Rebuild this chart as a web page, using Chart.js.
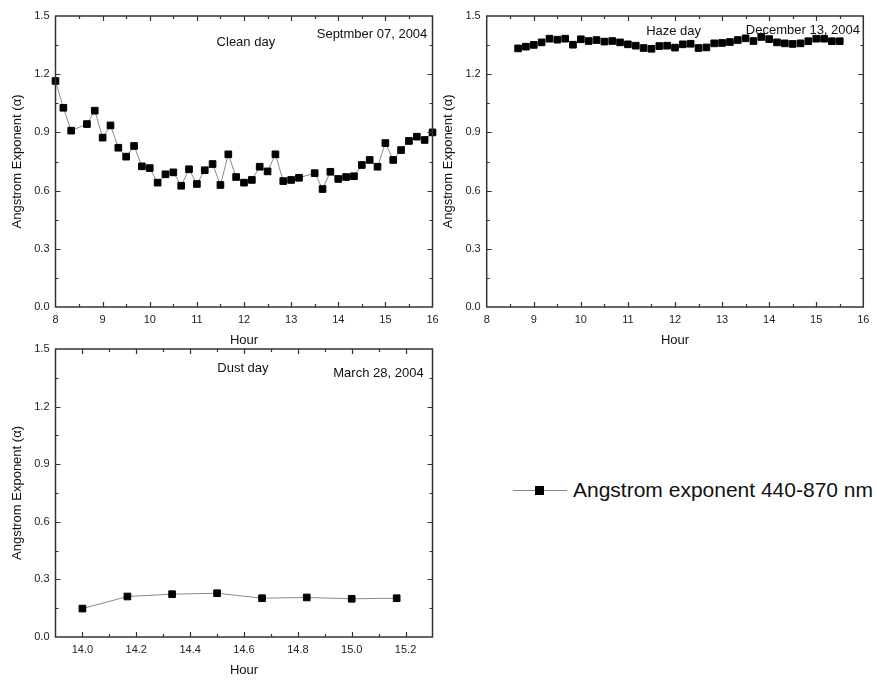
<!DOCTYPE html>
<html><head><meta charset="utf-8">
<script src="https://cdn.jsdelivr.net/npm/chart.js@4.4.1/dist/chart.umd.min.js"></script>
<style>
body{margin:0;width:877px;height:680px;overflow:hidden;background:#fff;font-family:"Liberation Sans",Arial,sans-serif;}
.box{position:absolute;}
#legend{position:absolute;left:513px;top:477px;height:26px;display:flex;align-items:center;}
#legend .ln{position:relative;width:54px;height:1px;background:#888;margin-right:6px;}
#legend .sq{position:absolute;left:22px;top:-4px;width:9px;height:9px;background:#000;}
#legend .tx{font-size:21px;color:#111;white-space:nowrap;}
</style></head><body>
<div class="box" style="left:0;top:0;width:446px;height:350px"><canvas id="c1"></canvas></div>
<div class="box" style="left:431px;top:0;width:446px;height:350px"><canvas id="c2"></canvas></div>
<div class="box" style="left:0;top:333px;width:446px;height:347px"><canvas id="c3"></canvas></div>
<div id="legend"><div class="ln"><div class="sq"></div></div><div class="tx">Angstrom exponent 440-870 nm</div></div>
<script>
// ---- data ----
const cleanHours = [8.0, 8.167, 8.333, 8.667, 8.833, 9.0, 9.167, 9.333, 9.5, 9.667, 9.833, 10.0, 10.167, 10.333, 10.5, 10.667, 10.833, 11.0, 11.167, 11.333, 11.5, 11.667, 11.833, 12.0, 12.167, 12.333, 12.5, 12.667, 12.833, 13.0, 13.167, 13.5, 13.667, 13.833, 14.0, 14.167, 14.333, 14.5, 14.667, 14.833, 15.0, 15.167, 15.333, 15.5, 15.667, 15.833, 16.0];
const cleanAlpha = [1.165, 1.027, 0.909, 0.943, 1.012, 0.873, 0.936, 0.821, 0.775, 0.830, 0.725, 0.716, 0.641, 0.684, 0.694, 0.625, 0.710, 0.634, 0.705, 0.737, 0.629, 0.787, 0.670, 0.641, 0.655, 0.723, 0.699, 0.787, 0.649, 0.655, 0.666, 0.690, 0.608, 0.697, 0.660, 0.670, 0.674, 0.732, 0.758, 0.723, 0.845, 0.758, 0.809, 0.856, 0.878, 0.861, 0.900];

const hazeHours = [8.667, 8.833, 9.0, 9.167, 9.333, 9.5, 9.667, 9.833, 10.0, 10.167, 10.333, 10.5, 10.667, 10.833, 11.0, 11.167, 11.333, 11.5, 11.667, 11.833, 12.0, 12.167, 12.333, 12.5, 12.667, 12.833, 13.0, 13.167, 13.333, 13.5, 13.667, 13.833, 14.0, 14.167, 14.333, 14.5, 14.667, 14.833, 15.0, 15.167, 15.333, 15.5];
const hazeAlpha = [1.333, 1.342, 1.351, 1.364, 1.383, 1.378, 1.383, 1.352, 1.380, 1.371, 1.376, 1.368, 1.371, 1.364, 1.354, 1.347, 1.335, 1.331, 1.345, 1.347, 1.337, 1.354, 1.357, 1.335, 1.338, 1.359, 1.361, 1.366, 1.376, 1.385, 1.371, 1.392, 1.381, 1.364, 1.359, 1.356, 1.359, 1.370, 1.383, 1.383, 1.370, 1.370];

const dustHours = [14.0, 14.167, 14.333, 14.5, 14.667, 14.833, 15.0, 15.167];
const dustAlpha = [0.148, 0.211, 0.223, 0.228, 0.202, 0.206, 0.199, 0.202];

const hourTicks = [8, 9, 10, 11, 12, 13, 14, 15, 16];
const dustHourTicks = [14.0, 14.2, 14.4, 14.6, 14.8, 15.0, 15.2];
const alphaTicks = [0.0, 0.3, 0.6, 0.9, 1.2, 1.5];

const seriesName = 'Angstrom exponent 440-870 nm';
const yTitle = 'Angstrom Exponent (\u03b1)';
const xTitle = 'Hour';

// ---- styling ----
Chart.defaults.font.family = '"Liberation Sans", Arial, sans-serif';
Chart.defaults.color = '#222';

const framePlugin = {
  id: 'frame',
  afterDraw(chart, args, opts) {
    const {ctx, chartArea: a, scales} = chart;
    ctx.save();
    ctx.strokeStyle = '#333';
    ctx.lineWidth = 1.5;
    ctx.strokeRect(a.left, a.top, a.right - a.left, a.bottom - a.top);
    ctx.lineWidth = 1.2;
    const drawTicks = (scale, horizontal) => {
      const majors = scale.ticks.map(t => t.value);
      const minors = [];
      for (let i = 0; i < majors.length - 1; i++) minors.push((majors[i] + majors[i + 1]) / 2);
      const list = majors.map(v => [v, 5]).concat(minors.map(v => [v, 3]));
      list.forEach(([v, len]) => {
        if (v <= scale.min + 1e-9 || v >= scale.max - 1e-9) return;
        const p = Math.round(scale.getPixelForValue(v)) + 0.5;
        ctx.beginPath();
        if (horizontal) {
          ctx.moveTo(p, a.bottom); ctx.lineTo(p, a.bottom - len);
          ctx.moveTo(p, a.top); ctx.lineTo(p, a.top + len);
        } else {
          ctx.moveTo(a.left, p); ctx.lineTo(a.left + len, p);
          ctx.moveTo(a.right, p); ctx.lineTo(a.right - len, p);
        }
        ctx.stroke();
      });
    };
    drawTicks(scales.x, true);
    drawTicks(scales.y, false);
    // annotations positioned in data coordinates
    ctx.fillStyle = '#111';
    ctx.font = '13px "Liberation Sans", Arial, sans-serif';
    ctx.textBaseline = 'middle';
    (opts.notes || []).forEach(n => {
      ctx.textAlign = n.align;
      ctx.fillText(n.text, scales.x.getPixelForValue(n.x), scales.y.getPixelForValue(n.y));
    });
    ctx.restore();
  }
};

function makeChart(id, hours, alpha, xMin, xMax, xTicks, xFmt, showLine, notes, rightPad) {
  return new Chart(document.getElementById(id), {
    type: 'scatter',
    data: {
      datasets: [{
        label: seriesName,
        data: hours.map((h, i) => ({x: h, y: alpha[i]})),
        showLine: showLine,
        borderColor: '#8a8a8a',
        borderWidth: 1,
        pointStyle: 'rect',
        pointRadius: 4.7,
        pointHoverRadius: 4.7,
        pointBorderWidth: 1,
        pointBackgroundColor: '#000',
        pointBorderColor: '#000',
        clip: false
      }]
    },
    options: {
      animation: false,
      responsive: true,
      maintainAspectRatio: false,
      layout: {padding: {top: 16, right: rightPad, bottom: 0, left: 0}},
      plugins: {legend: {display: false}, tooltip: {enabled: false}, frame: {notes: notes}},
      scales: {
        x: {
          type: 'linear', min: xMin, max: xMax,
          afterBuildTicks: s => { s.ticks = xTicks.map(v => ({value: v})); },
          afterFit: s => { s.height = 43; },
          grid: {display: false, drawTicks: false},
          border: {display: false},
          ticks: {padding: 6, font: {size: 11}, color: '#222', maxRotation: 0, callback: v => xFmt(v)},
          title: {display: true, text: xTitle, font: {size: 13}, color: '#111', padding: {top: 0, bottom: 1.5}}
        },
        y: {
          type: 'linear', min: 0, max: 1.5,
          afterBuildTicks: s => { s.ticks = alphaTicks.map(v => ({value: v})); },
          afterFit: s => { s.width = id === 'c2' ? 55.7 : 55.5; },
          grid: {display: false, drawTicks: false},
          border: {display: false},
          ticks: {padding: 6, font: {size: 11}, color: '#222', callback: v => v.toFixed(1)},
          title: {display: true, text: yTitle, font: {size: 13}, color: '#111', padding: {top: 10, bottom: 0}}
        }
      }
    },
    plugins: [framePlugin]
  });
}

makeChart('c1', cleanHours, cleanAlpha, 8, 16, hourTicks, v => String(v), true, [
  {text: 'Clean day', x: 12.04, y: 1.366, align: 'center'},
  {text: 'Septmber 07, 2004', x: 15.89, y: 1.407, align: 'right'}
], 13.5);

makeChart('c2', hazeHours, hazeAlpha, 8, 16, hourTicks, v => String(v), false, [
  {text: 'Haze day', x: 11.97, y: 1.423, align: 'center'},
  {text: 'December 13, 2004', x: 15.93, y: 1.428, align: 'right'}
], 13.7);

makeChart('c3', dustHours, dustAlpha, 13.9, 15.3, dustHourTicks, v => v.toFixed(1), true, [
  {text: 'Dust day', x: 14.596, y: 1.397, align: 'center'},
  {text: 'March 28, 2004', x: 15.267, y: 1.371, align: 'right'}
], 13.5);
</script>
</body></html>
